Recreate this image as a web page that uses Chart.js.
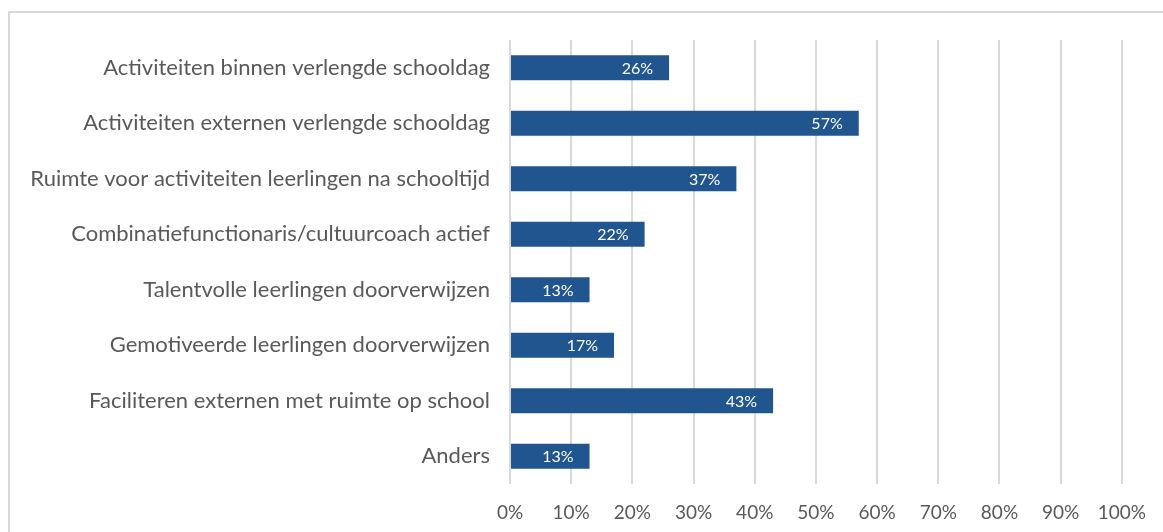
<!DOCTYPE html>
<html>
<head>
<meta charset="utf-8">
<script src="https://cdn.jsdelivr.net/npm/chart.js@4.4.1/dist/chart.umd.min.js"></script>
<style>
    html, body { margin: 0; padding: 0; background: #ffffff; }
    #wrap { position: relative; width: 1163px; height: 532px; overflow: hidden; }
    #frame { position: absolute; left: 8px; top: 11px; width: 1170px; height: 540px; border: 2px solid #d9d9d9; box-sizing: border-box; }
    #budgetChart { position: absolute; left: 0; top: 0; }
</style>
</head>
<body>
<div id="wrap">
    <div id="frame"></div>
    <canvas id="budgetChart" width="1163" height="532"></canvas>
</div>
<script>
const categories = [
    "Activiteiten binnen verlengde schooldag",
    "Activiteiten externen verlengde schooldag",
    "Ruimte voor activiteiten leerlingen na schooltijd",
    "Combinatiefunctionaris/cultuurcoach actief",
    "Talentvolle leerlingen doorverwijzen",
    "Gemotiveerde leerlingen doorverwijzen",
    "Faciliteren externen met ruimte op school",
    "Anders"
];
const percentages = [26, 57, 37, 22, 13, 17, 43, 13];
const tickValues = [0, 10, 20, 30, 40, 50, 60, 70, 80, 90, 100];

const fontFamily = "Lato, 'Liberation Sans', sans-serif";
const textColor = "#595959";
const barColor = "#215590";

// labels inside the end of each bar
const barLabels = {
    id: "barLabels",
    afterDatasetsDraw(chart) {
        const ctx = chart.ctx;
        const meta = chart.getDatasetMeta(0);
        ctx.save();
        ctx.font = "16px " + fontFamily;
        ctx.fillStyle = "#ffffff";
        ctx.textAlign = "right";
        ctx.textBaseline = "middle";
        meta.data.forEach(function(bar, i){
            ctx.fillText(percentages[i] + "%", bar.x - 16, bar.y + 1);
        });
        ctx.restore();
    }
};

const ctx = document.getElementById("budgetChart").getContext("2d");
let chartInstance = new Chart(ctx, {
    type: "bar",
    data: {
        labels: categories,
        datasets: [{
            data: percentages,
            backgroundColor: barColor,
            barPercentage: 0.45,
            categoryPercentage: 1
        }]
    },
    options: {
        indexAxis: "y",
        responsive: false,
        animation: false,
        layout: { padding: { top: 40, right: 38, bottom: 0, left: 0 } },
        plugins: {
            legend: { display: false },
            tooltip: { enabled: false }
        },
        scales: {
            x: {
                min: 0,
                max: 100,
                afterBuildTicks: function(axis){
                    axis.ticks = tickValues.map(v => ({ value: v }));
                },
                afterFit: function(axis){ axis.height = 48; },
                grid: { color: "#d9d9d9", lineWidth: 2, drawTicks: false },
                border: { display: false },
                ticks: {
                    padding: 17,
                    color: textColor,
                    font: { family: fontFamily, size: 19 },
                    callback: v => v + "%"
                }
            },
            y: {
                afterFit: function(axis){ axis.width = 510; },
                grid: { display: false, drawTicks: false },
                border: { display: false },
                ticks: {
                    padding: 20,
                    color: textColor,
                    font: { family: fontFamily, size: 22 }
                }
            }
        }
    },
    plugins: [barLabels]
});
</script>
</body>
</html>
